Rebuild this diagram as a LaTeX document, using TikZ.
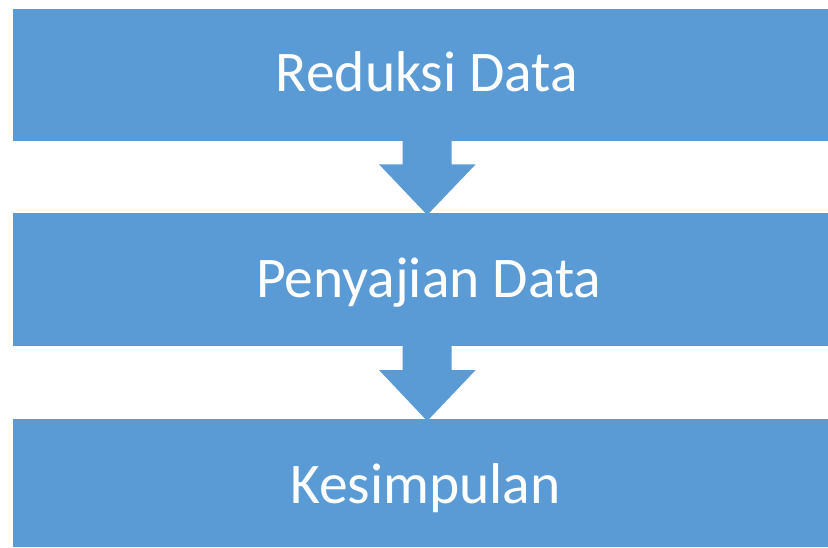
\documentclass[tikz,border=0pt]{standalone}
\usepackage{fontspec}
\setmainfont{Carlito}
\usetikzlibrary{calc}
\definecolor{boxblue}{HTML}{5B9BD5}
\tikzset{
  stagebox/.style={rectangle, fill=boxblue, inner sep=0pt, minimum width=815pt},
  stagelabel/.style={anchor=base, text=white, inner sep=0pt, font=\fontsize{57.5}{60}\selectfont},
  downarrow/.style={fill=boxblue, draw=none}
}
\begin{document}
\begin{tikzpicture}[x=1pt, y=-1pt]
\useasboundingbox (0,0) rectangle (828,547);
\node[stagebox, minimum height=132pt] (b1) at (420.5,74.7) {};
\node[stagebox, minimum height=132.7pt] (b2) at (420.5,279.65) {};
\node[stagebox, minimum height=127.7pt] (b3) at (420.5,483.15) {};
\node[stagelabel] (t1) at (427,91) {Reduksi Data};
\node[stagelabel] (t2) at (428.7,297.7) {Penyajian Data};
\node[stagelabel] (t3) at (425.5,503.3) {Kesimpulan};
% arrows between boxes
\fill[downarrow] (402.7,0 |- b1.south) -- (451.7,0 |- b1.south) -- (451.7,164.3) -- (475.7,164.3)
  -- (427.2,215) -- (379,164.3) -- (402.7,164.3) -- cycle;
\fill[downarrow] (402.7,0 |- b2.south) -- (451.7,0 |- b2.south) -- (451.7,370) -- (475.7,370)
  -- (427.2,421) -- (379,370) -- (402.7,370) -- cycle;
\end{tikzpicture}
\end{document}
